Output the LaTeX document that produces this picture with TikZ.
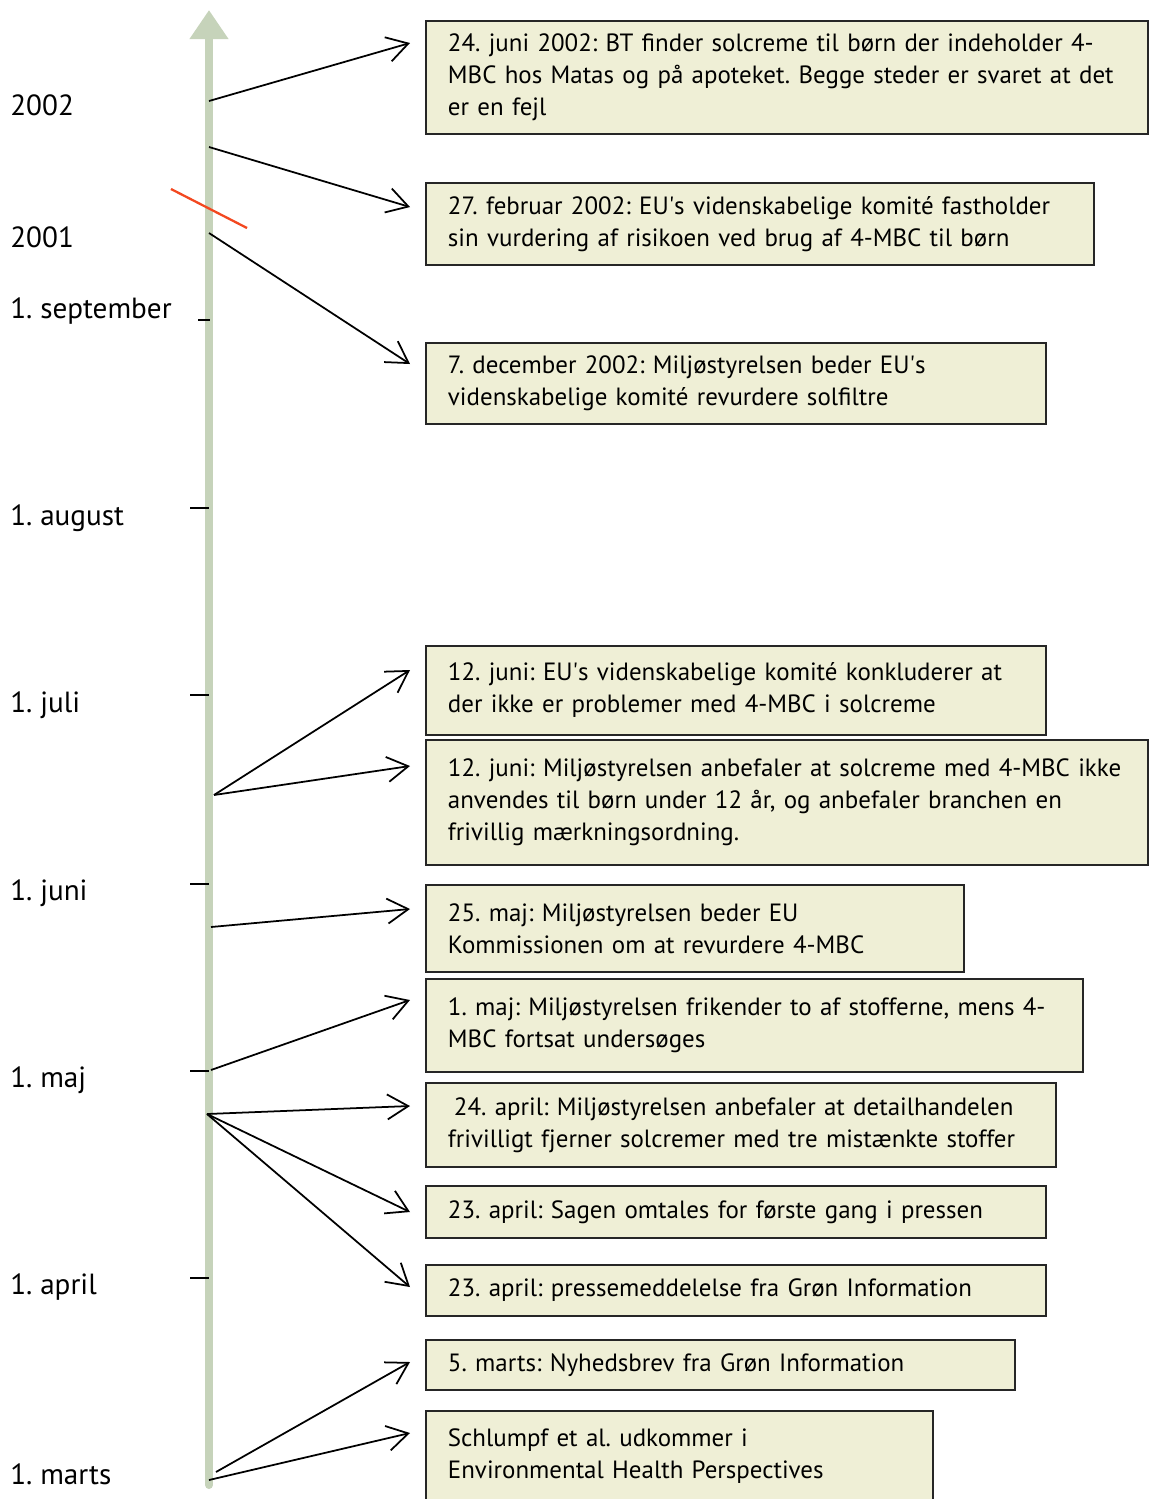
\documentclass[tikz,border=0pt]{standalone}
\usepackage{fontspec}
\setmainfont{PT Sans}
\usetikzlibrary{arrows.meta}
\frenchspacing
\hyphenpenalty=10000

\definecolor{axisgreen}{RGB}{198,211,186}
\definecolor{boxfill}{RGB}{239,239,214}
\definecolor{cutred}{RGB}{243,72,32}
\newcommand{\apos}{\textquotesingle}

\tikzset{
  evbox/.style 2 args={draw=black!85, fill=boxfill, line width=1.1pt, anchor=north west,
    text width=#1cm, minimum height=#2cm, inner xsep=0.44cm, inner ysep=0pt, align=left,
    font=\fontsize{14.2}{18.2}\selectfont},
  evarrow/.style={line width=1pt, -{Straight Barb[length=0.42cm,width=0.5cm]}},
  datelabel/.style={anchor=west, inner sep=0pt, font=\fontsize{16.6}{19}\selectfont},
  tick/.style={line width=0.8pt}
}

\begin{document}
\begin{tikzpicture}[x=0.02cm, y=-0.02cm]
      \useasboundingbox (0,0) rectangle (1149,1499);

      % Axis
      \draw[axisgreen, line width=0.16cm, line cap=round, -{Triangle[width=0.74cm,length=0.58cm]}] (209,1485) -- (209,10);
      \foreach \y in {508,695,884,1071,1278}
        \draw[tick] (190,\y) -- (209,\y);
      \draw[tick] (198,320) -- (210,320);
      \draw[cutred, line width=1.3pt] (171,189) -- (247,228);

      % Labels
      \node[datelabel] (l2002) at (10,105) {2002};
      \node[datelabel] (l2001) at (10,237) {2001};
      \node[datelabel] (lsep) at (10,311) {1. september};
      \node[datelabel] (laug) at (10,518) {1. august};
      \node[datelabel] (ljul) at (10,705) {1. juli};
      \node[datelabel] (ljun) at (10,893) {1. juni};
      \node[datelabel] (lmaj) at (10,1080) {1. maj};
      \node[datelabel] (lapr) at (10,1287) {1. april};
      \node[datelabel] (lmar) at (10,1474) {1. marts};

      % Events
      \node[evbox={13.56}{2.26}] (bt) at (425,20) {24. juni 2002: BT finder solcreme til børn der indeholder 4-\\MBC hos Matas og på apoteket. Begge steder er svaret at det\\er en fejl};
      \node[evbox={12.48}{1.64}] (eufeb) at (425,182) {27. februar 2002: EU\apos s videnskabelige komité fastholder\\sin vurdering af risikoen ved brug af 4-MBC til børn};
      \node[evbox={11.52}{1.62}] (msdec) at (425,342) {7. december 2002: Miljøstyrelsen beder EU\apos s\\videnskabelige komité revurdere solfiltre};
      \node[evbox={11.52}{1.78}] (eujun) at (425,645) {12. juni: EU\apos s videnskabelige komité konkluderer at\\der ikke er problemer med 4-MBC i solcreme};
      \node[evbox={13.56}{2.50}] (msjun) at (425,739) {12. juni: Miljøstyrelsen anbefaler at solcreme med 4-MBC ikke\\anvendes til børn under 12 år, og anbefaler branchen en\\frivillig mærkningsordning.};
      \node[evbox={9.88}{1.74}] (msmaj) at (425,884) {25. maj: Miljøstyrelsen beder EU\\Kommissionen om at revurdere 4-MBC};
      \node[evbox={12.26}{1.86}] (frikend) at (425,978) {1. maj: Miljøstyrelsen frikender to af stofferne, mens 4-\\MBC fortsat undersøges};
      \node[evbox={11.72}{1.68}] (msapr) at (425,1082) {\hspace{0.12cm}24. april: Miljøstyrelsen anbefaler at detailhandelen\\frivilligt fjerner solcremer med tre mistænkte stoffer};
      \node[evbox={11.52}{1.04}] (presse) at (425,1185) {23. april: Sagen omtales for første gang i pressen};
      \node[evbox={11.52}{1.02}] (gronpm) at (425,1264) {23. april: pressemeddelelse fra Grøn Information};
      \node[evbox={10.90}{1.00}] (nyhed) at (425,1339) {5. marts: Nyhedsbrev fra Grøn Information};
      \node[evbox={9.26}{1.80}] (schlumpf) at (425,1410) {Schlumpf et al. udkommer i\\Environmental Health Perspectives};

      % Points on the axis
      \coordinate (sbt) at (209,101);
      \coordinate (seufeb) at (209,147);
      \coordinate (smsdec) at (209,233);
      \coordinate (sjun) at (214,795);
      \coordinate (smaj) at (211,927);
      \coordinate (sfri) at (211,1070);
      \coordinate (sapr) at (207,1114);
      \coordinate (snyh) at (216,1472);
      \coordinate (sschl) at (209,1480);

      % Arrow tips
      \coordinate (tbt) at (410,43);
      \coordinate (teufeb) at (410,207);
      \coordinate (tmsdec) at (410,364);
      \coordinate (teujun) at (410,670);
      \coordinate (tmsjun) at (410,766);
      \coordinate (tmsmaj) at (410,909);
      \coordinate (tfri) at (410,1000);
      \coordinate (tmsapr) at (410,1106);
      \coordinate (tpresse) at (410,1212);
      \coordinate (tgronpm) at (410,1287);
      \coordinate (tnyhed) at (410,1362);
      \coordinate (tschl) at (410,1433);

      % Connectors
      \draw[evarrow] (sbt) -- (tbt);
      \draw[evarrow] (seufeb) -- (teufeb);
      \draw[evarrow] (smsdec) -- (tmsdec);
      \draw[evarrow] (sjun) -- (teujun);
      \draw[evarrow] (sjun) -- (tmsjun);
      \draw[evarrow] (smaj) -- (tmsmaj);
      \draw[evarrow] (sfri) -- (tfri);
      \draw[evarrow] (sapr) -- (tmsapr);
      \draw[evarrow] (sapr) -- (tpresse);
      \draw[evarrow] (sapr) -- (tgronpm);
      \draw[evarrow] (snyh) -- (tnyhed);
      \draw[evarrow] (sschl) -- (tschl);
\end{tikzpicture}
\end{document}
